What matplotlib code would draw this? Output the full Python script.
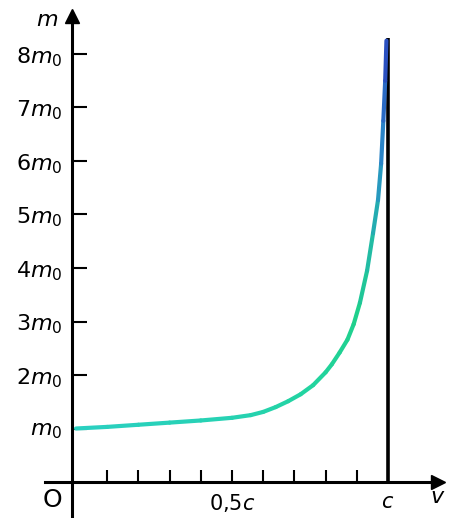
import numpy as np
import matplotlib
matplotlib.use("Agg")
import matplotlib.pyplot as plt
from matplotlib.collections import LineCollection
from matplotlib.colors import LinearSegmentedColormap

# speed v (in units of c) and relativistic mass m (in units of m0)
v_vals = [0.0, 0.1, 0.2, 0.3, 0.4, 0.5, 0.56, 0.6, 0.64, 0.68, 0.72, 0.76, 0.8,
          0.82, 0.845, 0.87, 0.89, 0.91, 0.933, 0.952, 0.968, 0.978, 0.985,
          0.991, 0.995]
m_vals = [1.0, 1.03, 1.07, 1.11, 1.15, 1.20, 1.25, 1.31, 1.40, 1.51, 1.64, 1.81, 2.05,
          2.20, 2.42, 2.66, 2.95, 3.35, 3.95, 4.65, 5.27, 5.95, 6.75,
          7.50, 8.25]

x_ticks = [0.1, 0.2, 0.3, 0.4, 0.5, 0.6, 0.7, 0.8, 0.9, 1.0]
x_labels = ["", "", "", "", "0,5$c$", "", "", "", "", "$c$"]
y_ticks = [1, 2, 3, 4, 5, 6, 7, 8]
y_labels = ["$m_0$", "$2m_0$", "$3m_0$", "$4m_0$", "$5m_0$", "$6m_0$", "$7m_0$", "$8m_0$"]
c_line_top = 8.3

W, H = 450, 518
fig = plt.figure(figsize=(W / 100, H / 100), dpi=100)
ax = fig.add_axes([0, 0, 1, 1])
ax.patch.set_alpha(0)

x0, sx = 76.0, 312.0   # pixel of v=0, pixels per c
y0, sy = 482.0, 53.5   # pixel of m=0, pixels per m0
ax.set_xlim(-x0 / sx, (W - x0) / sx)
ax.set_ylim((y0 - H) / sy, y0 / sy)

# axes spines as crossing arrows
ax.spines["top"].set_visible(False)
ax.spines["right"].set_visible(False)
yaxis_x = (72 - x0) / sx
ax.spines["left"].set_position(("data", yaxis_x))
ax.spines["bottom"].set_position(("data", 0))
ax.spines["left"].set_bounds((y0 - H) / sy, (y0 - 14) / sy)
ax.spines["bottom"].set_bounds((45 - x0) / sx, (440 - x0) / sx)
for s in ("left", "bottom"):
    ax.spines[s].set_linewidth(2.2)
    ax.spines[s].set_color("black")
ax.plot([yaxis_x], [(y0 - 16) / sy], marker="^", color="black", markersize=10, clip_on=False)
ax.plot([(438 - x0) / sx], [0], marker=">", color="black", markersize=10, clip_on=False)

ax.set_xticks(x_ticks)
ax.set_xticklabels(x_labels, fontsize=15)
ax.set_yticks(y_ticks)
ax.set_yticklabels(y_labels, fontsize=16)
ax.tick_params(axis="x", direction="in", length=9, width=1.5, pad=7)
ax.tick_params(axis="y", direction="in", length=11, width=1.5, pad=7)

# vertical line at v = c
ax.vlines(1.0, 0, c_line_top, color="black", linewidth=2.6)

# gradient curve
pts = np.column_stack([v_vals, m_vals])
segs = np.stack([pts[:-1], pts[1:]], axis=1)
cmap = LinearSegmentedColormap.from_list(
    "g", [(0.0, "#2ad0c0"), (0.45, "#22d4a0"), (0.7, "#1fd08c"),
          (0.8, "#22b8a8"), (0.9, "#2a8cc8"), (1.0, "#2a50c0")])
t = np.linspace(0, 1, len(segs))
lc = LineCollection(segs, colors=cmap(t), linewidths=3.0, capstyle="round", joinstyle="round")
ax.add_collection(lc)

# axis letters
ax.text((47 - x0) / sx, (y0 - 20) / sy, "$m$", fontsize=16, ha="center", va="center")
ax.text((52 - x0) / sx, (y0 - 500) / sy, "O", fontsize=18, ha="center", va="center")
ax.text((438 - x0) / sx, (y0 - 497) / sy, "$v$", fontsize=16, ha="center", va="center")

fig.savefig("out.png", dpi=100)
